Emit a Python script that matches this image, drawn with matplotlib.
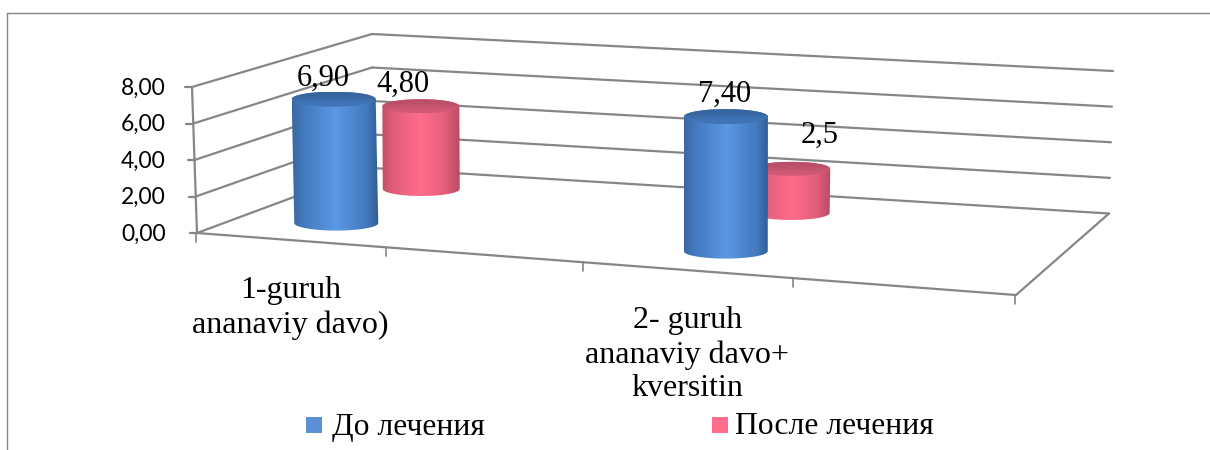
import numpy as np
import matplotlib
matplotlib.use('Agg')
import matplotlib.pyplot as plt
from matplotlib.colors import to_rgb
from matplotlib.patches import Polygon, Rectangle

# Chart data: four category slots, the second and fourth are empty
categories = ['1-guruh\nananaviy davo)', '', '2- guruh\nananaviy davo+\nkversitin', '']
before_values = [6.90, np.nan, 7.40, np.nan]
after_values = [4.80, np.nan, 2.50, np.nan]
before_labels = ['6,90', '', '7,40', '']
after_labels = ['4,80', '', '2,5', '']
series_names = ['До лечения', 'После лечения']
value_ticks = [0, 2, 4, 6, 8]
value_tick_labels = ['0,00', '2,00', '4,00', '6,00', '8,00']

# Floor corners on the canvas: front-left, front-right, back-right, back-left
FLOOR = [(197, 233), (1016, 295), (1109, 213.5), (372, 168)]
# Offset from each floor corner up to the top of the value axis
LIFT = [(-5, -146), (2, -148), (4, -142.5), (0, -134)]
Z_MAX = 8.0
CAT_EDGES = [0, 0.258, 0.508, 0.756, 1.0]
CAT_CENTERS = [0.133, 0.383, 0.638, 0.878]
SERIES_DEPTH = [0.235, 0.745]

GRID = '#868686'
SERIF = 'Liberation Serif'


def homography(corners):
    src = [(0, 0), (1, 0), (1, 1), (0, 1)]
    A, b = [], []
    for (u, v), (x, y) in zip(src, corners):
        A.append([u, v, 1, 0, 0, 0, -u * x, -v * x])
        A.append([0, 0, 0, u, v, 1, -u * y, -v * y])
        b += [x, y]
    return np.append(np.linalg.solve(np.array(A, float), np.array(b, float)), 1).reshape(3, 3)


H_FLOOR = homography(FLOOR)


def project(u, v, z=0.0):
    # position in the box (u along categories, v in depth, z in value units) to canvas pixels
    p = H_FLOOR @ [u, v, 1]
    fl, fr, br, bl = [np.array(c, float) for c in LIFT]
    lift = (fl * (1 - u) + fr * u) * (1 - v) + (bl * (1 - u) + br * u) * v
    return p[:2] / p[2] + lift * z / Z_MAX


def line(ax, a, b, lw=1.6, color=GRID, zorder=1):
    ax.plot([a[0], b[0]], [a[1], b[1]], color=color, lw=lw, zorder=zorder,
            solid_capstyle='round')


def gradient(stops, n=256):
    ts = [s[0] for s in stops]
    cols = np.array([to_rgb(s[1]) for s in stops])
    t = np.linspace(0, 1, n)
    return np.stack([np.interp(t, ts, cols[:, i]) for i in range(3)], axis=-1)[None, :, :]


def cylinder(ax, base, top, rx, ry, side_stops, cap_color, cap_edge, zorder):
    t = np.linspace(0, np.pi, 60)
    # lower arc runs left to right through the front of the base
    low_x = base[0] - rx * np.cos(t)
    low_y = base[1] + ry * np.sin(t)
    up_x = top[0] + rx * np.cos(t)
    up_y = top[1] - ry * np.sin(t)
    outline = np.column_stack([np.r_[low_x, up_x], np.r_[low_y, up_y]])
    clip = Polygon(outline, closed=True, fc='none', ec='none', zorder=zorder)
    ax.add_patch(clip)
    x0, x1 = outline[:, 0].min(), outline[:, 0].max()
    y0, y1 = outline[:, 1].min(), outline[:, 1].max()
    img = ax.imshow(gradient(side_stops), extent=(x0, x1, y1, y0), aspect='auto',
                    zorder=zorder, interpolation='bilinear')
    img.set_clip_path(clip)

    # cap, a little darker at the far rim
    a = np.linspace(0, 2 * np.pi, 90)
    cap_pts = np.column_stack([top[0] + rx * np.cos(a), top[1] + ry * np.sin(a)])
    cap = Polygon(cap_pts, closed=True, fc='none', ec='none', zorder=zorder + 0.1)
    ax.add_patch(cap)
    col = np.array([to_rgb(cap_edge), to_rgb(cap_color)])[:, None, :]
    cap_img = ax.imshow(col, extent=(top[0] - rx, top[0] + rx, top[1] + ry, top[1] - ry),
                        aspect='auto', zorder=zorder + 0.1, interpolation='bilinear')
    cap_img.set_clip_path(cap)


fig = plt.figure(figsize=(12.1, 4.5), dpi=100, facecolor='white')
ax = fig.add_axes([0, 0, 1, 1])

# outer chart frame
ax.plot([7, 7, 1210], [450, 12.5, 12.5], color=GRID, lw=1.0, zorder=1)

# walls: gridlines on the left wall and the back wall
for z in value_ticks:
    line(ax, project(0, 0, z), project(0, 1, z))
    line(ax, project(0, 1, z), project(1, 1, z))
    p = project(0, 0, z)
    line(ax, (p[0] - 7, p[1]), p)
line(ax, project(0, 0, 0), project(0, 0, Z_MAX))

# floor outline and category ticks
line(ax, project(0, 0), project(1, 0))
line(ax, project(1, 0), project(1, 1))
for e in CAT_EDGES:
    p = project(e, 0)
    line(ax, (p[0] - 1, p[1]), (p[0] - 1, p[1] + 9), lw=1.2)

for z, txt in zip(value_ticks, value_tick_labels):
    p = project(0, 0, z)
    ax.text(165.5, p[1] + 1, txt, ha='right', va='center', fontsize=16.5, family='Lato',
            color='black', zorder=5)

# category labels under the front edge, centred between the ticks
for i, name in enumerate(categories):
    if name:
        p = project((CAT_EDGES[i] + CAT_EDGES[i + 1]) / 2, 0)
        ax.text(p[0], p[1] + 36, name, ha='center', va='top', fontsize=23, family=SERIF,
                color='black', linespacing=1.22, zorder=5)

blue_stops = [(0, '#3A689F'), (0.12, '#4379BE'), (0.5, '#5A98E4'), (0.86, '#4379BE'), (1, '#2F5C93')]
red_stops = [(0, '#C04F69'), (0.14, '#E25E7B'), (0.5, '#FF6D8B'), (0.82, '#E25E7B'), (1, '#B84A62')]

series = [
    (before_values, before_labels, 42, 7.5, blue_stops, '#4074B6', '#36659F'),
    (after_values, after_labels, 38.5, 7, red_stops, '#CF5A75', '#BB4F67'),
]
label_offsets = {(0, 0): (-10, -21), (2, 0): (-1, -22), (0, 1): (-18, -22), (2, 1): (28, -33)}

# far series first so the near cylinders overlap it
for s in [1, 0]:
    values, labels, rx, ry, stops, cap_c, cap_e = series[s]
    for i, val in enumerate(values):
        if np.isnan(val):
            continue
        base = project(CAT_CENTERS[i], SERIES_DEPTH[s], 0)
        top = project(CAT_CENTERS[i], SERIES_DEPTH[s], val)
        cylinder(ax, base, top, rx, ry, stops, cap_c, cap_e, zorder=2 + (1 - s))
        dx, dy = label_offsets[(i, s)]
        ax.text(top[0] + dx, top[1] + dy, labels[i], ha='center', va='center',
                fontsize=22, family=SERIF, color='black', zorder=6)

# legend along the bottom
for x_box, x_txt, col, name in zip([306, 712], [332, 735], ['#5B8FD6', '#FF6D88'], series_names):
    ax.add_patch(Rectangle((x_box, 417), 16, 16, fc=col, ec='none', zorder=5))
    ax.text(x_txt, 427, name, ha='left', va='center', fontsize=22.8, family=SERIF,
            color='black', zorder=5)

ax.set_xlim(0, 1210)
ax.set_ylim(450, 0)
ax.axis('off')
fig.savefig('out.png', dpi=100, facecolor='white')
